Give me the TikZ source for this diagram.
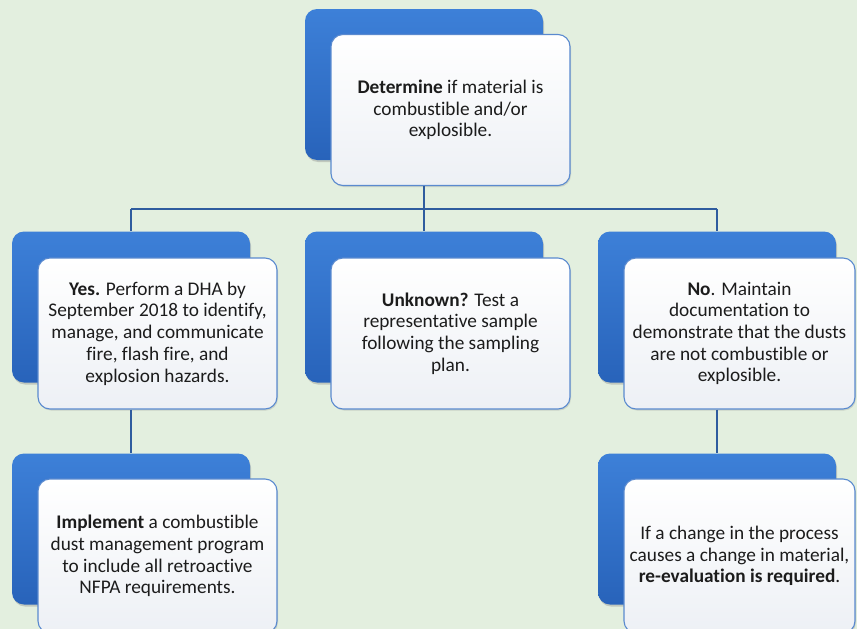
\documentclass[tikz,border=0pt]{standalone}
\usepackage{fontspec}
\setmainfont[Ligatures={NoCommon}]{Carlito}
\usetikzlibrary{shadows}
\definecolor{bg}{HTML}{E3EFDF}
\definecolor{backtop}{HTML}{3D80D8}
\definecolor{backbot}{HTML}{2863BA}
\definecolor{frontline}{HTML}{5A8ACF}
\definecolor{frontbot}{HTML}{EDF0F5}
\definecolor{link}{HTML}{2F5C9E}
\definecolor{ink}{HTML}{1C1C1C}
\tikzset{
  backcard/.style={draw=none, rounded corners=12pt, top color=backtop, bottom color=backbot,
    minimum width=238pt, minimum height=151pt, inner sep=0pt,
    drop shadow={opacity=0.35, shadow xshift=1pt, shadow yshift=-2pt}},
  frontcard/.style={draw=frontline, line width=1.1pt, rounded corners=12pt,
    top color=white, bottom color=frontbot,
    minimum width=239pt, minimum height=151pt, inner sep=2pt, align=center,
    text=ink, font=\fontsize{19.3pt}{21.7pt}\selectfont,
    drop shadow={opacity=0.25, shadow xshift=1pt, shadow yshift=-1.5pt}},
  linkline/.style={draw=link, line width=1.1pt}
}
\begin{document}
\begin{tikzpicture}[x=1pt,y=-1pt]
\fill[bg] (0,0) rectangle (857,629);
\useasboundingbox (0,0) rectangle (857,629);

% top decision
\node[backcard] (topB) at (424,84.5) {};
\node[frontcard] (topF) at (450.5,110) {\textbf{Determine} if material is\\combustible and/or\\explosible.};

% branch row
\node[backcard] (yesB) at (131,307) {};
\node[backcard] (unkB) at (424,307) {};
\node[backcard] (noB)  at (717,307) {};

% follow-up row
\node[backcard] (implB) at (131,529) {};
\node[backcard] (reB)   at (717,529) {};

% branch connectors
\coordinate (split) at (424,209);
\coordinate (splitL) at (131,209);
\coordinate (splitR) at (717,209);
\draw[linkline] (topF.south -| split) -- (split);
\draw[linkline] (splitL) -- (splitR);
\draw[linkline] (splitL) -- (yesB.north);
\draw[linkline] (split) -- (unkB.north);
\draw[linkline] (splitR) -- (noB.north);

\node[frontcard] (yesF) at (157.5,333.5) {\textbf{Yes.} Perform a DHA by\\September 2018 to identify,\\manage, and communicate\\fire, flash fire, and\\explosion hazards.};
\node[frontcard] (unkF) at (450.5,333.5) {\textbf{Unknown?} Test a\\representative sample\\following the sampling\\plan.};
\node[frontcard, minimum width=231pt] (noF) at (739.5,333.5) {\textbf{No}. Maintain\\documentation to\\demonstrate that the dusts\\are not combustible or\\explosible.};

% follow-up connectors
\draw[linkline] (yesF.south -| yesB.north) -- (implB.north);
\draw[linkline] (noF.south -| noB.north) -- (reB.north);

\node[frontcard, minimum height=154pt] (implF) at (157.5,556) {\textbf{Implement} a combustible\\dust management program\\to include all retroactive\\NFPA requirements.};
\node[frontcard, minimum width=231pt, minimum height=154pt] (reF) at (739.5,556) {If a change in the process\\causes a change in material,\\\textbf{re-evaluation is required}.};
\end{tikzpicture}
\end{document}
